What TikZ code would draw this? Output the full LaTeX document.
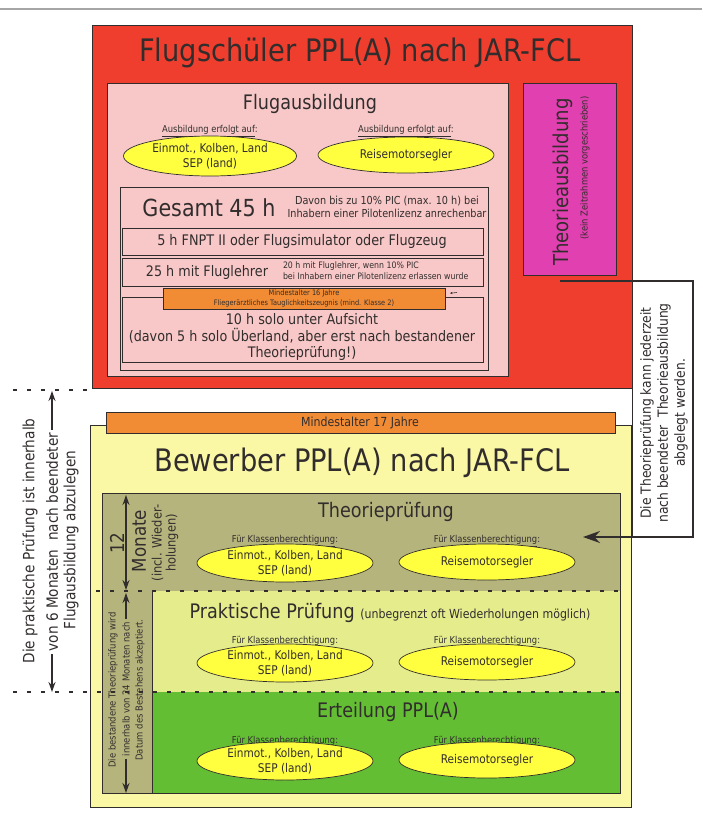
\documentclass[tikz,border=0pt]{standalone}
\usepackage{fontspec}
\setmainfont{DejaVu Sans}[FakeStretch=0.88]
\usetikzlibrary{shapes.geometric,arrows.meta}
\definecolor{cRed}{RGB}{239,62,45}
\definecolor{cPink}{RGB}{248,200,200}
\definecolor{cMag}{RGB}{224,64,176}
\definecolor{cEll}{RGB}{255,255,64}
\definecolor{cOrange}{RGB}{242,140,52}
\definecolor{cYel}{RGB}{250,248,165}
\definecolor{cOlive}{RGB}{181,180,125}
\definecolor{cLime}{RGB}{228,236,140}
\definecolor{cGreen}{RGB}{100,190,52}
\definecolor{cLine}{RGB}{50,45,45}
\newcommand{\fsz}[2]{\fontsize{#1}{#2}\selectfont}
\tikzset{
  rbox/.style={draw=cLine, line width=0.8pt, inner sep=0pt, outer sep=0pt, anchor=north west},
  fbox/.style={draw=none, inner sep=0pt, outer sep=0pt, anchor=north west},
  txt/.style={inner sep=0pt, outer sep=0pt, text=cLine, align=center},
  ell/.style={ellipse, draw=cLine, fill=cEll, line width=0.7pt, minimum width=176pt, minimum height=38pt, inner sep=0pt, align=center, text=cLine, font=\fsz{12}{15}},
  lab/.style={txt, font=\fsz{9.5}{11}},
  arr/.style={-{Stealth[length=10pt,width=7pt]}, line width=1.3pt, draw=cLine},
  bigarr/.style={-{Stealth[length=17pt,width=12pt]}, line width=1.5pt, draw=cLine},
  dashline/.style={dash pattern=on 4pt off 10pt, line width=1.6pt, draw=cLine},
}
\begin{document}
\begin{tikzpicture}[x=1pt,y=-1pt]
\useasboundingbox (0,0) rectangle (702,825);
% top rule
\draw[black!35, line width=1.5pt] (0,9) -- (702,9);

% ===== upper part =====
\node[rbox, fill=cRed, minimum width=540pt, minimum height=363pt] (red) at (92,25) {};
\node[txt, font=\fsz{31}{36}] (t1) at (360,53) {Flugschüler PPL(A) nach JAR-FCL};

\node[rbox, fill=cPink, minimum width=401pt, minimum height=293pt] (pink) at (107,83) {};
\node[txt, font=\fsz{20}{24}] (flug) at (310,104) {Flugausbildung};
\node[lab] (la1) at (210,131) {\underline{Ausbildung erfolgt auf}:};
\node[lab] (la2) at (406,131) {\underline{Ausbildung erfolgt auf}:};
\node[ell, minimum width=173pt, minimum height=40pt] (e1) at (210,156) {Einmot., Kolben, Land\\SEP (land)};
\node[ell, minimum height=36pt] (e2) at (406,155) {Reisemotorsegler};

\node[rbox, minimum width=368pt, minimum height=183pt] (ges) at (120,187) {};
\node[txt, font=\fsz{23.5}{28}] (gt) at (209,208) {Gesamt 45 h};
\node[txt, font=\fsz{11}{12.7}] (gn) at (387,207) {Davon bis zu 10\% PIC (max. 10 h) bei\\Inhabern einer Pilotenlizenz anrechenbar};

\node[rbox, minimum width=361pt, minimum height=27pt] (ba) at (122,228) {};
\node[txt, font=\fsz{14.6}{17}] (bat) at (302,241.5) {5 h FNPT II oder Flugsimulator oder Flugzeug};

\node[rbox, minimum width=361pt, minimum height=28pt] (bb) at (122,258) {};
\node[txt, font=\fsz{14.5}{17}] (bbt) at (207,272) {25 h mit Fluglehrer};
\node[txt, font=\fsz{8.9}{11}, align=left, anchor=west] (bbn) at (283,270.5) {20 h mit Fluglehrer, wenn 10\% PIC\\bei Inhabern einer Pilotenlizenz erlassen wurde};

\node[rbox, minimum width=361pt, minimum height=65pt] (bc) at (122,297) {};
\node[txt, font=\fsz{14.5}{16.5}] (bct) at (302,337) {10 h solo unter Aufsicht\\(davon 5 h solo Überland, aber erst nach bestandener\\Theorieprüfung!)};

\node[rbox, fill=cOrange, minimum width=282pt, minimum height=21pt] (ob1) at (163,288) {};
\node[txt, font=\fsz{7.5}{9.5}] (ob1t) at (304,298.5) {Mindestalter 16 Jahre\\Fliegerärztliches Tauglichkeitszeugnis (mind. Klasse 2)};
\draw[cLine, line width=0.6pt, -{Stealth[length=2.5pt,width=2.2pt]}] (457,292.5) -- (450,293.2);

\node[rbox, fill=cMag, minimum width=93pt, minimum height=192pt] (mag) at (523,83) {};
\node[txt, rotate=90, font=\fsz{20.5}{24}] (magt) at (563,182) {Theorieausbildung};
\node[txt, rotate=90, font=\fsz{9.5}{11}] (mags) at (585,168) {(kein Zeitrahmen vorgeschrieben)};

% ===== lower part =====
\node[rbox, fill=cYel, minimum width=541pt, minimum height=382pt] (yel) at (90,425) {};
\node[rbox, fill=cOrange, minimum width=509pt, minimum height=21pt] (ob2) at (106,412) {};
\node[txt, font=\fsz{12.5}{14}] (ob2t) at (360,423) {Mindestalter 17 Jahre};
\node[txt, font=\fsz{31}{36}] (t2) at (362,463) {Bewerber PPL(A) nach JAR-FCL};

\node[rbox, fill=cOlive, minimum width=518pt, minimum height=300pt] (olive) at (102,493) {};
\node[fbox, fill=cLime, minimum width=468pt, minimum height=101pt] (prak) at (152,591) {};
\node[fbox, fill=cGreen, minimum width=468pt, minimum height=101pt] (ert) at (152,692) {};
\draw[cLine, line width=0.8pt] (olive.north west) rectangle (olive.south east);
\draw[cLine, line width=0.8pt] (prak.north west) -- (ert.south west);

\node[txt, font=\fsz{20}{24}] (tp) at (386,512) {Theorieprüfung};
\node[lab] (l1) at (285,541) {Für \underline{Klassenberechtigung}:};
\node[lab] (l2) at (487,541) {Für \underline{Klassenberechtigung}:};
\node[ell] (e3) at (285,563) {Einmot., Kolben, Land\\SEP (land)};
\node[ell, minimum height=36pt] (e4) at (487,562) {Reisemotorsegler};

\node[txt, font=\fsz{20}{24}] (pp) at (390,613) {Praktische Prüfung {\fsz{12.5}{14}(unbegrenzt oft Wiederholungen möglich)}};
\node[lab] (l3) at (285,642) {Für \underline{Klassenberechtigung}:};
\node[lab] (l4) at (487,642) {Für \underline{Klassenberechtigung}:};
\node[ell] (e5) at (285,663) {Einmot., Kolben, Land\\SEP (land)};
\node[ell, minimum height=36pt] (e6) at (487,662) {Reisemotorsegler};

\node[txt, font=\fsz{20}{24}] (ep) at (388,712) {Erteilung PPL(A)};
\node[lab] (l5) at (285,742) {Für \underline{Klassenberechtigung}:};
\node[lab] (l6) at (487,742) {Für \underline{Klassenberechtigung}:};
\node[ell] (e7) at (285,761) {Einmot., Kolben, Land\\SEP (land)};
\node[ell, minimum height=36pt] (e8) at (487,760) {Reisemotorsegler};

% dashed separators
\draw[dashline] (96,591) -- (prak.north east);
\draw[dashline] (13,692) -- (ert.north east);
\draw[dashline] (13,390) -- (92,390);

% 12 Monate
\coordinate (m1) at (126,495);
\coordinate (m2) at (126,590);
\draw[arr, {Stealth[length=10pt,width=7pt]}-{Stealth[length=10pt,width=7pt]}] (m1) -- (m2);
\node[txt, rotate=90, font=\fsz{19}{22}] (m12) at (117,543) {12};
\node[txt, rotate=90, font=\fsz{19}{22}] (mmo) at (139,541) {Monate};
\node[txt, rotate=90, font=\fsz{13}{14}] (minc) at (165,543) {(incl. Wieder-\\holungen)};

% 24 Monate
\coordinate (n1) at (126,593);
\coordinate (n2) at (126,793);
\node[txt, rotate=90, font=\fsz{9.6}{11}] (nt1) at (113,690) {Die bestandene Theorieprüfung wird};
\node[txt, rotate=90, font=\fsz{9.6}{11}, inner sep=3pt] (nt2) at (126,689) {innerhalb von 24 Monaten nach};
\node[txt, rotate=90, font=\fsz{9.6}{11}] (nt3) at (140,690) {Datum des Bestehens akzeptiert.};
\draw[arr] (nt2.east) -- (n1);
\draw[arr] (nt2.west) -- (n2);

% left 6 Monate
\coordinate (p1) at (52,391);
\coordinate (p2) at (52,692);
\node[txt, rotate=90, font=\fsz{15.5}{18}] (pt1) at (30,541) {Die praktische Prüfung ist innerhalb};
\node[txt, rotate=90, font=\fsz{15.5}{18}, inner sep=3pt] (pt2) at (52,542) {von 6 Monaten\ \ nach beendeter};
\node[txt, rotate=90, font=\fsz{15.5}{18}] (pt3) at (71,540) {Flugausbildung abzulegen};
\draw[arr] (pt2.east) -- (p1);
\draw[arr] (pt2.west) -- (p2);

% right note box and connector
\node[rbox, fill=white, minimum width=61pt, minimum height=256pt] (note) at (632,281) {};
\node[txt, rotate=90, font=\fsz{14}{17}] (notet) at (664,413) {Die Theorieprüfung kann jederzeit\\nach beendeter\ \ Theorieausbildung\\abgelegt werden.};
\coordinate (cs) at (560,281);
\coordinate (ct) at (583,537);
\draw[bigarr] (cs) -- (note.north east) -- (note.south east) -- (ct);
\end{tikzpicture}
\end{document}
